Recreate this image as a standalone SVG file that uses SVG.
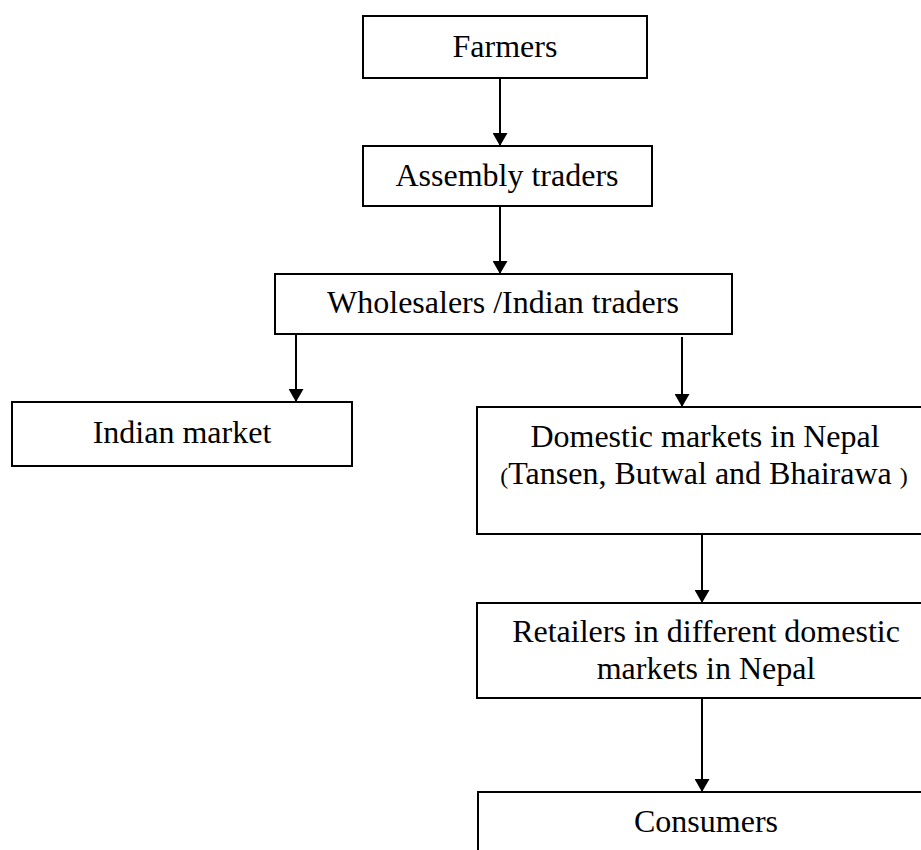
<svg xmlns="http://www.w3.org/2000/svg" width="921" height="850" viewBox="0 0 921 850">
<style>
.box{fill:#fff;stroke:#000;stroke-width:2}
.t{font-family:"Liberation Serif","Times New Roman",serif;font-size:32px;fill:#000;text-anchor:middle}
.c{stroke:#000;stroke-width:2;fill:none;marker-end:url(#ah)}
.p{font-size:24px}
</style>
<defs>
<marker id="ah" viewBox="0 0 13 15" refX="13" refY="7.5" markerWidth="13" markerHeight="15" markerUnits="userSpaceOnUse" orient="auto">
<path d="M0,0 L13,7.5 L0,15 z" fill="#000"/>
</marker>
</defs>
<rect width="921" height="850" fill="#fff"/>
<g id="connectors">
<line class="c" x1="500" y1="78" x2="500" y2="146"/>
<line class="c" x1="500" y1="206" x2="500" y2="274"/>
<line class="c" x1="296" y1="334" x2="296" y2="402"/>
<line class="c" x1="682" y1="337" x2="682" y2="407"/>
<line class="c" x1="702" y1="534" x2="702" y2="603"/>
<line class="c" x1="702" y1="698" x2="702" y2="792"/>
</g>
<g id="farmers">
<rect class="box" x="363" y="16" width="284" height="62"/>
<text class="t" x="505" y="57">Farmers</text>
</g>
<g id="assembly">
<rect class="box" x="363" y="146" width="289" height="60"/>
<text class="t" x="507" y="186">Assembly traders</text>
</g>
<g id="wholesalers">
<rect class="box" x="275" y="274" width="457" height="60"/>
<text class="t" x="503" y="313">Wholesalers /Indian traders</text>
</g>
<g id="indian">
<rect class="box" x="12" y="402" width="340" height="64"/>
<text class="t" x="182" y="443">Indian market</text>
</g>
<g id="domestic">
<rect class="box" x="477" y="407" width="455" height="127"/>
<text class="t" x="705" y="447">Domestic markets in Nepal</text>
<text class="t" x="704" y="484"><tspan class="p">(</tspan>Tansen, Butwal and Bhairawa <tspan class="p">)</tspan></text>
</g>
<g id="retailers">
<rect class="box" x="477" y="603" width="455" height="95"/>
<text class="t" x="706" y="642">Retailers in different domestic</text>
<text class="t" x="706" y="679">markets in Nepal</text>
</g>
<g id="consumers">
<rect class="box" x="478" y="792" width="454" height="80"/>
<text class="t" x="706" y="832">Consumers</text>
</g>
</svg>
